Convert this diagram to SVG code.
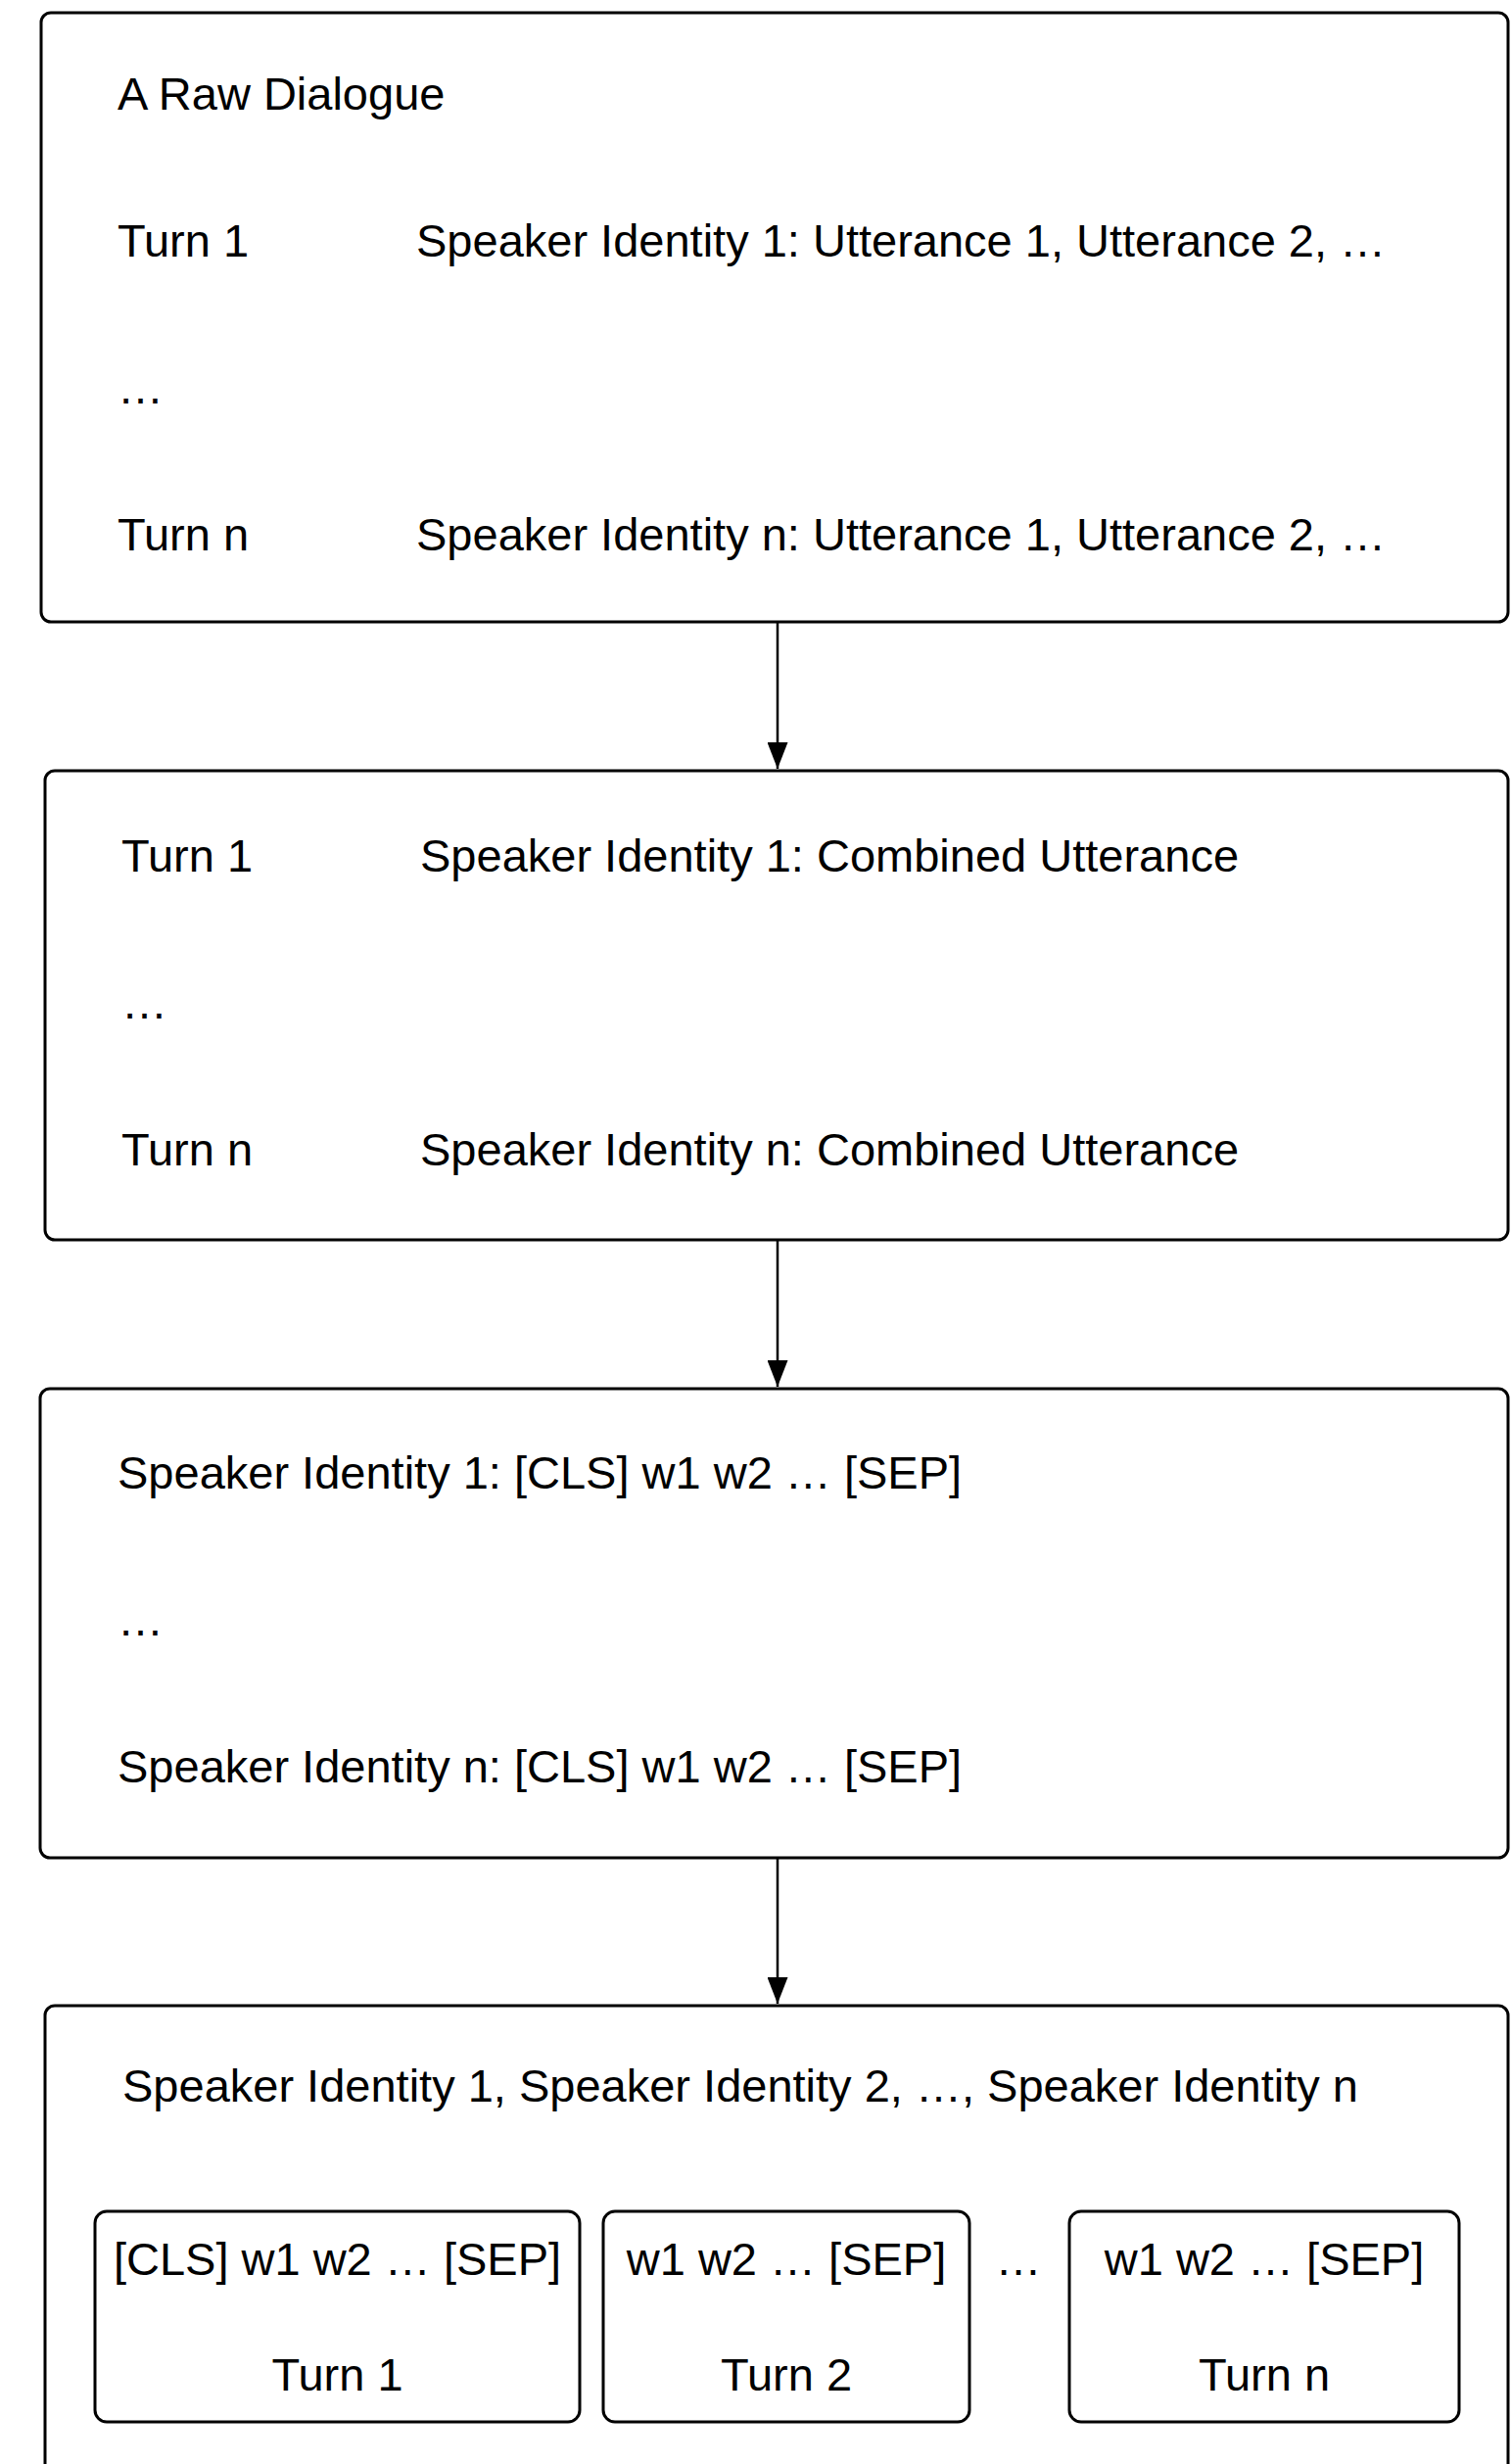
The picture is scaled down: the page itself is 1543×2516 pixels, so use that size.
<svg xmlns="http://www.w3.org/2000/svg" width="1543" height="2516" viewBox="0 0 1543 2516">
  <defs>
    <marker id="arrowhead" viewBox="0 0 27 21" refX="27" refY="10.5" markerWidth="27" markerHeight="21" markerUnits="userSpaceOnUse" orient="auto">
      <path d="M0 0 L27 10.5 L0 21 Z" fill="#000"/>
    </marker>
    <style>
      .box { fill: #fff; stroke: #000; stroke-width: 3; }
      .cell { fill: #fff; stroke: #000; stroke-width: 3; }
      .lbl { font-family: "Liberation Sans", Arial, Helvetica, sans-serif; font-size: 47px; fill: #000; }
      .mid { text-anchor: middle; }
      .edge { fill: none; stroke: #000; stroke-width: 2.5; }
    </style>
  </defs>
  <rect width="1543" height="2516" fill="#fff"/>

  <!-- stage 1: raw dialogue -->
  <g id="raw-dialogue">
    <rect class="box" x="42" y="13" width="1498" height="622" rx="10"/>
    <text class="lbl" x="120" y="112">A Raw Dialogue</text>
    <text class="lbl" x="120" y="262">Turn 1</text>
    <text class="lbl" x="425" y="262">Speaker Identity 1: Utterance 1, Utterance 2, …</text>
    <text class="lbl" x="120" y="412">…</text>
    <text class="lbl" x="120" y="562">Turn n</text>
    <text class="lbl" x="425" y="562">Speaker Identity n: Utterance 1, Utterance 2, …</text>
  </g>

  <!-- stage 2: utterances combined per turn -->
  <g id="combined-turns">
    <rect class="box" x="46" y="787" width="1494" height="479" rx="10"/>
    <text class="lbl" x="124" y="890">Turn 1</text>
    <text class="lbl" x="429" y="890">Speaker Identity 1: Combined Utterance</text>
    <text class="lbl" x="124" y="1040">…</text>
    <text class="lbl" x="124" y="1190">Turn n</text>
    <text class="lbl" x="429" y="1190">Speaker Identity n: Combined Utterance</text>
  </g>

  <!-- stage 3: tokenized turns -->
  <g id="tokenized-turns">
    <rect class="box" x="41" y="1418" width="1499" height="479" rx="10"/>
    <text class="lbl" x="120" y="1520">Speaker Identity 1: [CLS] w1 w2 … [SEP]</text>
    <text class="lbl" x="120" y="1670">…</text>
    <text class="lbl" x="120" y="1820">Speaker Identity n: [CLS] w1 w2 … [SEP]</text>
  </g>

  <!-- stage 4: concatenated input -->
  <g id="model-input">
    <rect class="box" x="46" y="2048" width="1494" height="490" rx="10"/>
    <text class="lbl" x="125" y="2146">Speaker Identity 1, Speaker Identity 2, …, Speaker Identity n</text>
    <text class="lbl mid" x="1040" y="2323">…</text>
  </g>

  <g id="segment-turn-1">
    <rect class="cell" x="97" y="2258" width="495" height="215" rx="12"/>
    <text class="lbl mid" x="344.5" y="2323">[CLS] w1 w2 … [SEP]</text>
    <text class="lbl mid" x="344.5" y="2441">Turn 1</text>
  </g>

  <g id="segment-turn-2">
    <rect class="cell" x="616" y="2258" width="374" height="215" rx="12"/>
    <text class="lbl mid" x="803" y="2323">w1 w2 … [SEP]</text>
    <text class="lbl mid" x="803" y="2441">Turn 2</text>
  </g>

  <g id="segment-turn-n">
    <rect class="cell" x="1092" y="2258" width="398" height="215" rx="12"/>
    <text class="lbl mid" x="1291" y="2323">w1 w2 … [SEP]</text>
    <text class="lbl mid" x="1291" y="2441">Turn n</text>
  </g>

  <!-- connectors -->
  <g id="connectors">
    <line class="edge" x1="794" y1="636" x2="794" y2="785" marker-end="url(#arrowhead)"/>
    <line class="edge" x1="794" y1="1267" x2="794" y2="1416" marker-end="url(#arrowhead)"/>
    <line class="edge" x1="794" y1="1898" x2="794" y2="2046" marker-end="url(#arrowhead)"/>
  </g>
</svg>
